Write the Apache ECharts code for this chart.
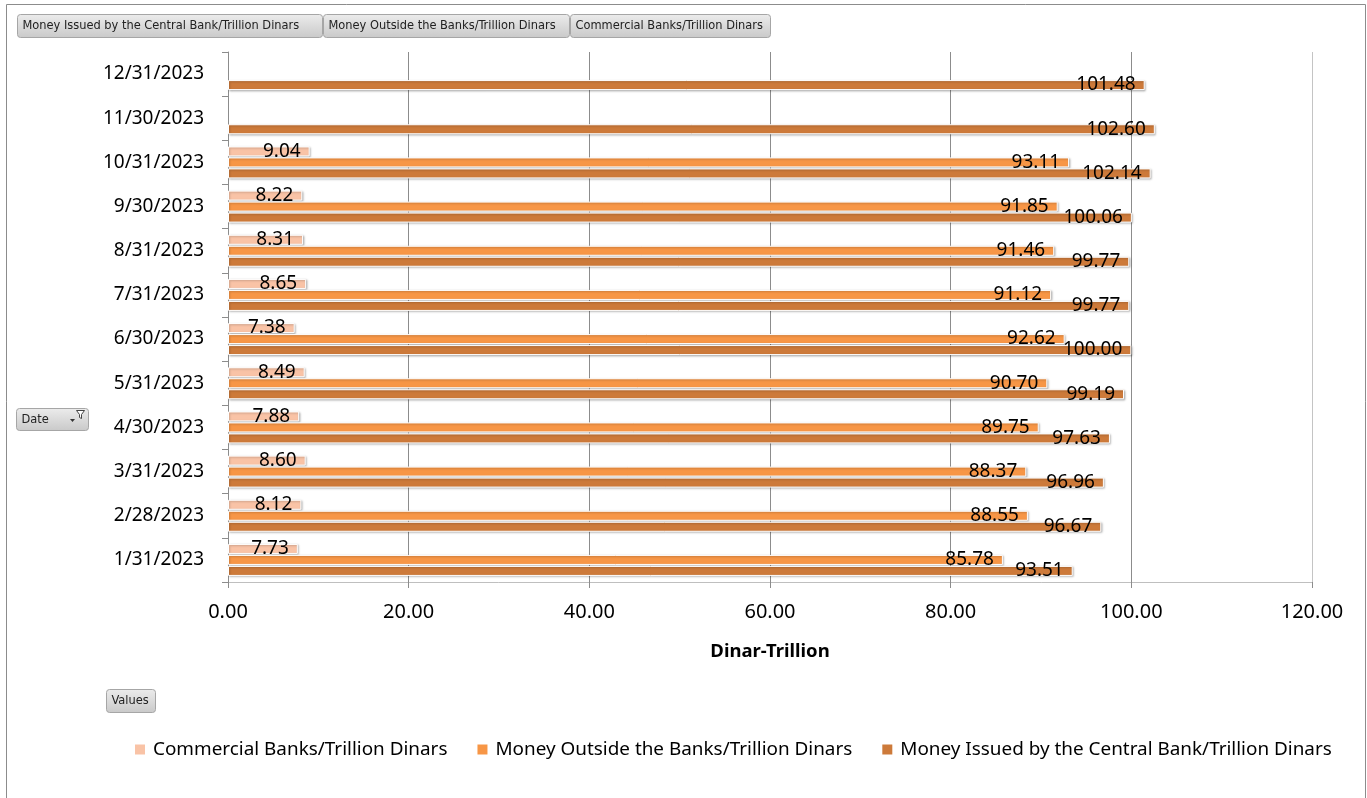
<!DOCTYPE html>
<html>
<head>
<meta charset="utf-8">
<script src="https://cdn.jsdelivr.net/npm/echarts@6/dist/echarts.min.js"></script>
<style>
  html, body { margin: 0; padding: 0; background: #fff; }
  #chart { width: 1367px; height: 798px; }
</style>
</head>
<body>
<div id="chart"></div>
<script>
// 日期（自下而上）
const dates = [
  "1/31/2023", "2/28/2023", "3/31/2023", "4/30/2023", "5/31/2023", "6/30/2023",
  "7/31/2023", "8/31/2023", "9/30/2023", "10/31/2023", "11/30/2023", "12/31/2023",
];
const commercialBanks = [7.73, 8.12, 8.6, 7.88, 8.49, 7.38, 8.65, 8.31, 8.22, 9.04, null, null];
const moneyOutside = [85.78, 88.55, 88.37, 89.75, 90.7, 92.62, 91.12, 91.46, 91.85, 93.11, null, null];
const moneyIssued = [93.51, 96.67, 96.96, 97.63, 99.19, 100.0, 99.77, 99.77, 100.06, 102.14, 102.6, 101.48];
const xTicks = [0, 20, 40, 60, 80, 100, 120];

const seriesNames = [
  "Commercial Banks/Trillion Dinars",
  "Money Outside the Banks/Trillion Dinars",
  "Money Issued by the Central Bank/Trillion Dinars",
];
const colors = ["#F9C3A6", "#F79646", "#CD7A3A"];

const FONT = "'Noto Sans', sans-serif";
const BTN_FONT = "'DejaVu Sans Condensed', 'Liberation Sans Narrow', sans-serif";

const chart = echarts.init(document.getElementById("chart"));

// 字段按钮
function button(x, y, w, h, label) {
  return {
    type: "group",
    left: x,
    top: y,
    children: [
      {
        type: "rect",
        shape: { x: 0, y: 0, width: w, height: h, r: 3 },
        style: {
          fill: new echarts.graphic.LinearGradient(0, 0, 0, 1, [
            { offset: 0, color: "#ececec" },
            { offset: 1, color: "#c9c9c9" },
          ]),
          stroke: "#a6a6a6",
          lineWidth: 1,
        },
      },
      {
        type: "text",
        x: 5,
        y: h / 2,
        style: { text: label, fill: "#222", font: "12.7px " + BTN_FONT, verticalAlign: "middle" },
      },
    ],
  };
}

function barSeries(i, data) {
  return {
    name: seriesNames[i],
    type: "bar",
    data: data,
    barWidth: 10,
    barGap: "10%",
    barCategoryGap: "30%",
    itemStyle: {
      color: colors[i],
      borderColor: "#fff",
      borderWidth: 1,
      shadowColor: "rgba(0,0,0,0.25)",
      shadowBlur: 2,
      shadowOffsetX: 1,
      shadowOffsetY: 1,
    },
    label: {
      show: true,
      position: "insideRight",
      distance: 9,
      color: "#000",
      fontSize: 19,
      fontFamily: FONT,
      formatter: (p) => (p.value == null ? "" : p.value.toFixed(2)),
    },
  };
}

const option = {
  animation: false,
  backgroundColor: "#fff",
  grid: { left: 228, right: 55, top: 52, bottom: 216 },
  legend: {
    data: seriesNames,
    left: 133,
    top: 740,
    padding: 0,
    icon: "rect",
    itemWidth: 12,
    itemHeight: 12,
    itemGap: 28,
    textStyle: { fontSize: 18.9, color: "#000", fontFamily: FONT, padding: [0, 0, 0, 2] },
  },
  xAxis: {
    type: "value",
    min: xTicks[0],
    max: xTicks[xTicks.length - 1],
    interval: 20,
    name: "Dinar-Trillion",
    nameLocation: "middle",
    nameGap: 60,
    nameTextStyle: { fontSize: 18.5, fontWeight: "bold", color: "#000", fontFamily: FONT },
    axisLine: { show: true, lineStyle: { color: "#bfbfbf" } },
    axisTick: { show: true, length: 6, lineStyle: { color: "#8c8c8c" } },
    axisLabel: {
      fontSize: 20,
      color: "#000",
      margin: 20,
      fontFamily: FONT,
      formatter: (v) => v.toFixed(2),
    },
    splitLine: {
      show: true,
      lineStyle: { color: ["#8c8c8c", "#8c8c8c", "#8c8c8c", "#8c8c8c", "#8c8c8c", "#8c8c8c", "#c4c4c4"] },
    },
  },
  yAxis: {
    type: "category",
    data: dates,
    axisLine: { show: true, lineStyle: { color: "#8c8c8c" } },
    axisTick: { show: true, length: 6, lineStyle: { color: "#8c8c8c" } },
    axisLabel: { fontSize: 19, color: "#000", margin: 24, fontFamily: FONT },
  },
  series: [
    barSeries(0, commercialBanks),
    barSeries(1, moneyOutside),
    barSeries(2, moneyIssued),
  ],
  graphic: [
    // 外框
    {
      type: "rect",
      left: 4,
      top: 2,
      shape: { x: 0, y: 0, width: 1359, height: 800 },
      style: { fill: "none", stroke: "#8c8c8c", lineWidth: 1 },
      silent: true,
    },
    button(17, 14, 305, 23, "Money Issued by the Central Bank/Trillion Dinars"),
    button(323, 14, 246, 23, "Money Outside the Banks/Trillion Dinars"),
    button(570, 14, 200, 23, "Commercial Banks/Trillion Dinars"),
    button(16, 408, 72, 22, "Date"),
    // 筛选图标
    {
      type: "polygon",
      left: 76,
      top: 410,
      shape: { points: [[0, 0], [8, 0], [5, 4], [5, 8], [3, 7], [3, 4]] },
      style: { fill: "#fff", stroke: "#444", lineWidth: 1 },
    },
    {
      type: "polygon",
      left: 70,
      top: 419,
      shape: { points: [[0, 0], [5, 0], [2.5, 3]] },
      style: { fill: "#333" },
    },
    button(106, 689, 49, 23, "Values"),
  ],
};

chart.setOption(option);
window.addEventListener("resize", () => {
  chart.resize();
});
</script>
</body>
</html>
